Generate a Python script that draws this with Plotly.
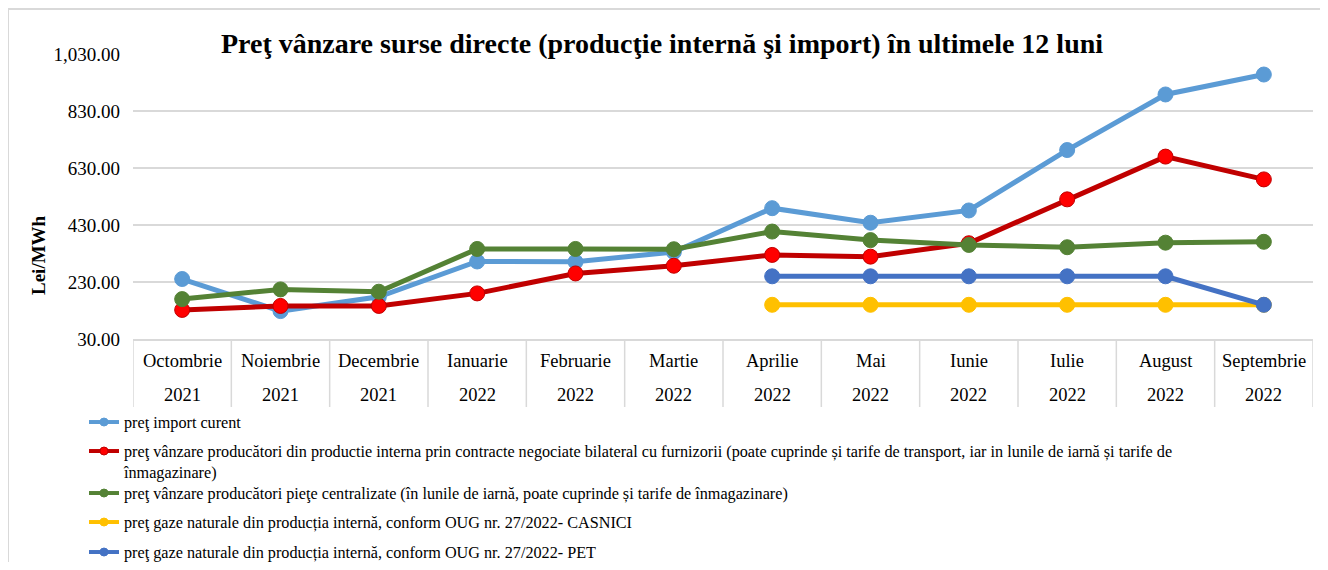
import plotly.graph_objects as go

months = ["Octombrie", "Noiembrie", "Decembrie", "Ianuarie", "Februarie", "Martie",
          "Aprilie", "Mai", "Iunie", "Iulie", "August", "Septembrie"]
years = ["2021", "2021", "2021", "2022", "2022", "2022",
         "2022", "2022", "2022", "2022", "2022", "2022"]

import_curent = [240.5, 128, 178, 302, 301, 335, 489, 438, 481, 693, 888, 958]
bilateral = [132, 146, 146, 190, 260, 287, 325, 319, 366, 520, 670, 590]
centralizate = [170, 204, 196, 346, 346, 345, 407, 377, 360, 352, 368, 371]
casnici = [None, None, None, None, None, None, 150, 150, 150, 150, 150, 150]
pet = [None, None, None, None, None, None, 250, 250, 250, 250, 250, 150]

names = [
    "preţ import curent",
    "preţ vânzare producători din productie interna prin contracte negociate bilateral cu furnizorii (poate cuprinde și tarife de transport, iar in lunile de iarnă și tarife de<br>înmagazinare)",
    "preţ vânzare producători pieţe centralizate (în lunile de iarnă, poate cuprinde și tarife de înmagazinare)",
    "preţ gaze naturale din producția internă, conform OUG nr. 27/2022- CASNICI",
    "preţ gaze naturale din producția internă, conform OUG nr. 27/2022- PET",
]
series = [import_curent, bilateral, centralizate, casnici, pet]
line_colors = ["#5B9BD5", "#C00000", "#548235", "#FFC000", "#4472C4"]
marker_colors = ["#5B9BD5", "#FF0000", "#548235", "#FFC000", "#4472C4"]
marker_lines = ["#5B9BD5", "#C00000", "#548235", "#FFC000", "#4472C4"]

FONT = "Liberation Serif, Times New Roman, serif"
x = list(range(len(months)))

# page offset (body margin) and plot area in page pixels
OFF = 8
L, R, T, B = 133, 1313, 54, 339
W, H = 1312, 554
PW, PH = R - L, B - T


def px2x(p):
    return (p - L) / PW


def px2y(p):
    return (B - p) / PH


fig = go.Figure()

for i, (name, vals) in enumerate(zip(names, series)):
    fig.add_trace(go.Scatter(
        x=x, y=vals, mode="lines+markers", name=name, showlegend=False,
        line=dict(color=line_colors[i], width=5),
        marker=dict(size=15, color=marker_colors[i],
                    line=dict(color=marker_lines[i], width=1)),
        connectgaps=False, hoverinfo="y",
    ))

legend_centers = [421, 450, 492, 521, 551]
for i, name in enumerate(names):
    lg = "legend" if i == 0 else f"legend{i + 1}"
    fig.add_trace(go.Scatter(
        x=[None], y=[None], mode="lines+markers", name=name, legend=lg,
        line=dict(color=line_colors[i], width=4),
        marker=dict(size=8, color=marker_colors[i],
                    line=dict(color=marker_lines[i], width=1)),
    ))

legend_layout = {}
for i, c in enumerate(legend_centers):
    key = "legend" if i == 0 else f"legend{i + 1}"
    legend_layout[key] = dict(
        x=px2x(84), y=px2y(c - 16), xanchor="left", yanchor="top",
        bgcolor="rgba(0,0,0,0)", borderwidth=0, valign="top",
        font=dict(family=FONT, size=16.2, color="#000000"),
        itemclick=False, itemdoubleclick=False,
    )

shapes = []
# outer chart border: only the top and left edges are inside the page
shapes.append(dict(type="line", xref="paper", yref="paper",
                   x0=px2x(8), x1=px2x(1320), y0=px2y(9), y1=px2y(9),
                   line=dict(color="#D9D9D9", width=2), layer="below"))
shapes.append(dict(type="line", xref="paper", yref="paper",
                   x0=px2x(8), x1=px2x(8), y0=px2y(9), y1=px2y(562),
                   line=dict(color="#D9D9D9", width=2), layer="below"))
# category table separators
for k in range(len(months) + 1):
    shapes.append(dict(type="line", xref="x", yref="paper",
                       x0=k - 0.5, x1=k - 0.5, y0=0, y1=px2y(407),
                       line=dict(color="#D9D9D9", width=1.5)))

cat_font = dict(family=FONT, size=18.5, color="#000")
annotations = []
for i, (m, yv) in enumerate(zip(months, years)):
    annotations.append(dict(x=i, y=px2y(361), xref="x", yref="paper", text=m,
                            showarrow=False, font=cat_font,
                            xanchor="center", yanchor="middle"))
    annotations.append(dict(x=i, y=px2y(395), xref="x", yref="paper", text=yv,
                            showarrow=False, font=cat_font,
                            xanchor="center", yanchor="middle"))
annotations.append(dict(x=px2x(38), y=px2y(255), xref="paper", yref="paper",
                        text="<b>Lei/MWh</b>", textangle=-90, showarrow=False,
                        font=dict(family=FONT, size=19, color="#000"),
                        xanchor="center", yanchor="middle"))

fig.update_layout(
    width=W, height=H,
    margin=dict(l=L - OFF, r=W - (R - OFF), t=T - OFF, b=H - (B - OFF), autoexpand=False),
    paper_bgcolor="white", plot_bgcolor="white",
    title=dict(text="<b>Preţ vânzare surse directe (producţie internă şi import) în ultimele 12 luni</b>",
               x=(662 - OFF) / W, xanchor="center", y=1 - (43 - OFF) / H, yanchor="middle",
               font=dict(family=FONT, size=28, color="#000")),
    xaxis=dict(range=[-0.5, len(months) - 0.5], showticklabels=False, showgrid=False,
               zeroline=False, showline=True, linecolor="#D9D9D9", linewidth=1.5,
               fixedrange=True),
    yaxis=dict(range=[30, 1030], tick0=30, dtick=200, tickformat=",.2f",
               showgrid=True, gridcolor="#D9D9D9", gridwidth=1.5, zeroline=False,
               showline=False, ticks="", ticklabelstandoff=12,
               tickfont=dict(family=FONT, size=19, color="#000"), fixedrange=True),
    shapes=shapes, annotations=annotations,
    **legend_layout,
)

fig.write_html("out.html")
